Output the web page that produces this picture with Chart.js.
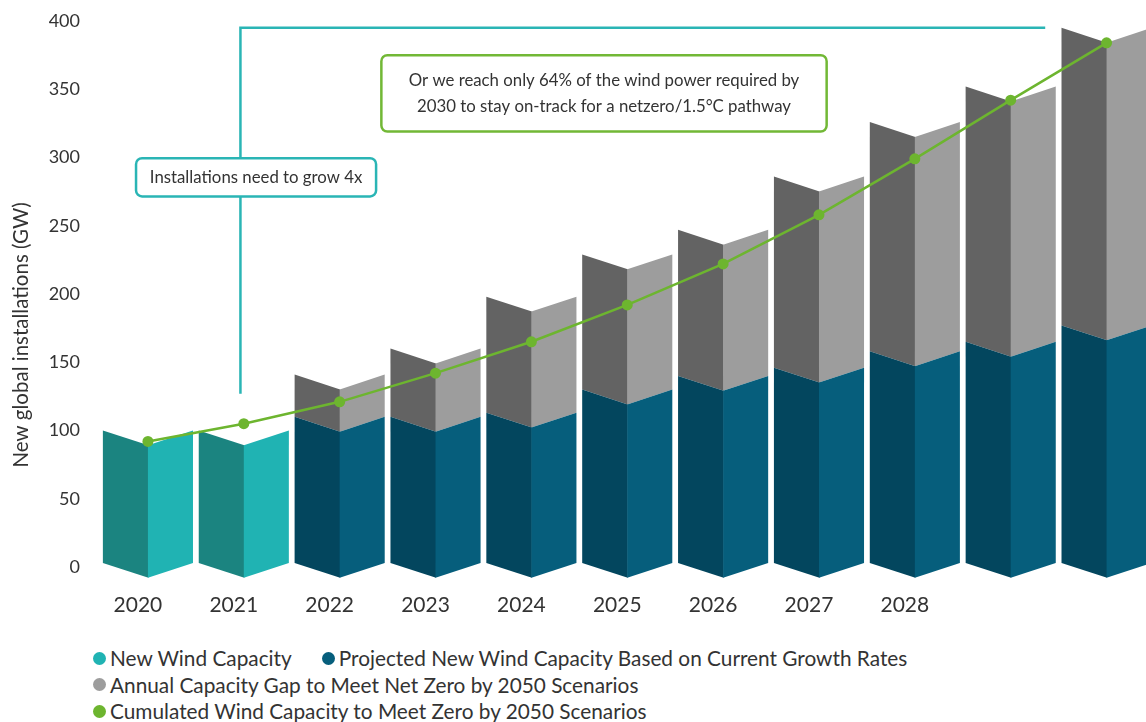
<!DOCTYPE html>
<html>
<head>
<meta charset="utf-8">
<script src="https://cdn.jsdelivr.net/npm/chart.js@4.4.0/dist/chart.umd.min.js"></script>
<style>
	html, body { margin: 0; padding: 0; background: #fff; overflow: hidden; }
	body { width: 1146px; height: 722px; position: relative; font-family: Lato, sans-serif; }
	#wrap { position: absolute; left: 0; top: 0; width: 1160px; height: 632px; }
	#legend { position: absolute; left: 93px; top: 645px; color: #333; font-size: 20.8px; line-height: 26.5px; white-space: nowrap; }
	.row { display: flex; align-items: center; }
	.item { display: inline-flex; align-items: center; margin-right: 30px; }
	.dot { width: 13px; height: 13px; border-radius: 50%; margin-right: 4px; }
</style>
</head>
<body>
<div id="wrap"><canvas id="chart"></canvas></div>
<div id="legend"></div>
<script>
const years = ['2020', '2021', '2022', '2023', '2024', '2025', '2026', '2027', '2028', '2029', '2030'];
const tickLabels = ['2020', '2021', '2022', '2023', '2024', '2025', '2026', '2027', '2028', '', ''];

const seriesNames = [
	'New Wind Capacity',
	'Projected New Wind Capacity Based on Current Growth Rates',
	'Annual Capacity Gap to Meet Net Zero by 2050 Scenarios',
	'Cumulated Wind Capacity to Meet Zero by 2050 Scenarios'
];
const newCapacity = [100, 100, null, null, null, null, null, null, null, null, null];
const projectedCapacity = [null, null, 110, 110, 113, 130, 140, 146, 158, 165, 177];
const capacityGap = [null, null, 31, 50, 85, 99, 107, 140, 168, 187, 218];
const cumulatedCapacity = [92, 105, 121, 142, 165, 192, 222, 258, 299, 342, 384];

const yTicks = [0, 50, 100, 150, 200, 250, 300, 350, 400];

// light face / dark face for each bar series
const lightColors = ['#20b3b3', '#065e7c', '#9d9d9d'];
const darkColors = ['#1b8480', '#03465e', '#636363'];
const green = '#6db52f';
const teal = '#2ab5b5';
const textColor = '#333333';

// folded "3D" bars drawn from the library's bar elements
const foldBars = {
	id: 'foldBars',
	beforeDatasetDraw(chart, args)
	{
		const meta = args.meta;
		if (meta.type !== 'bar')
			return;
		const ds = chart.data.datasets[args.index];
		const ctx = chart.ctx;
		ctx.save();
		meta.data.forEach((bar, i) => {
			if (ds.data[i] == null)
				return;
			const p = bar.getProps(['x', 'y', 'base', 'width'], true);
			const l = p.x - p.width / 2;
			const r = p.x + p.width / 2;
			const d = p.width * 0.165;
			ctx.fillStyle = darkColors[args.index];
			ctx.beginPath();
			ctx.moveTo(l, p.y);
			ctx.lineTo(p.x + 0.5, p.y + d);
			ctx.lineTo(p.x + 0.5, p.base + d);
			ctx.lineTo(l, p.base);
			ctx.closePath();
			ctx.fill();
			ctx.fillStyle = lightColors[args.index];
			ctx.beginPath();
			ctx.moveTo(p.x, p.y + d);
			ctx.lineTo(r, p.y);
			ctx.lineTo(r, p.base);
			ctx.lineTo(p.x, p.base + d);
			ctx.closePath();
			ctx.fill();
		});
		ctx.restore();
		return false;
	}
};

function roundBox(ctx, x1, y1, x2, y2, color, lines)
{
	ctx.beginPath();
	ctx.roundRect(x1, y1, x2 - x1, y2 - y1, 6);
	ctx.fillStyle = '#fff';
	ctx.fill();
	ctx.lineWidth = 2.5;
	ctx.strokeStyle = color;
	ctx.stroke();
	ctx.fillStyle = textColor;
	ctx.font = '16.8px Lato';
	ctx.textAlign = 'center';
	ctx.textBaseline = 'middle';
	const mid = (y1 + y2) / 2;
	lines.forEach((t, k) => {
		ctx.fillText(t, (x1 + x2) / 2, mid + (k - (lines.length - 1) / 2) * 26);
	});
}

const annotations = {
	id: 'annotations',
	beforeDatasetsDraw(chart)
	{
		const ctx = chart.ctx;
		const xs = chart.scales.x;
		const ys = chart.scales.y;
		const x0 = xs.getPixelForValue(0);
		const step = xs.getPixelForValue(1) - x0;
		const px = (i) => x0 + i * step;
		const py = (v) => ys.getPixelForValue(v);

		ctx.save();
		// bracket
		ctx.strokeStyle = teal;
		ctx.lineWidth = 2.5;
		ctx.beginPath();
		ctx.moveTo(px(0.965), py(127));
		ctx.lineTo(px(0.965), py(395));
		ctx.lineTo(px(9.36), py(395));
		ctx.stroke();

		roundBox(ctx, px(-0.124), py(299.5), px(2.38), py(271.5), teal, ['Installations need to grow 4x']);
		roundBox(ctx, px(2.435), py(375), px(7.08), py(319), '#72b836', [
			'Or we reach only 64% of the wind power required by',
			'2030 to stay on-track for a netzero/1.5\u00b0C pathway'
		]);

		// y axis title
		ctx.translate(21, py(170));
		ctx.rotate(-Math.PI / 2);
		ctx.font = '20.5px Lato';
		ctx.fillStyle = textColor;
		ctx.textAlign = 'center';
		ctx.textBaseline = 'middle';
		ctx.fillText('New global installations (GW)', 0, 0);
		ctx.restore();
	}
};

const ctx = document.getElementById('chart').getContext('2d');
new Chart(ctx, {
	type: 'bar',
	data: {
		labels: years,
		datasets: [
			{ label: seriesNames[0], data: newCapacity, backgroundColor: lightColors[0], stack: 'bars', base: 3, order: 1 },
			{ label: seriesNames[1], data: projectedCapacity, backgroundColor: lightColors[1], stack: 'bars', base: 3, order: 1 },
			{ label: seriesNames[2], data: capacityGap, backgroundColor: lightColors[2], stack: 'bars', order: 1 },
			{
				type: 'line',
				label: seriesNames[3],
				data: cumulatedCapacity,
				stack: 'line',
				order: 0,
				borderColor: green,
				backgroundColor: green,
				borderWidth: 2.5,
				pointRadius: 5.5,
				pointBackgroundColor: green,
				pointBorderWidth: 0,
				tension: 0
			}
		]
	},
	options: {
		responsive: true,
		maintainAspectRatio: false,
		animation: false,
		layout: { padding: { top: 21, left: 0, right: 0, bottom: 0 } },
		datasets: { bar: { categoryPercentage: 1, barPercentage: 0.94 } },
		plugins: {
			legend: { display: false },
			tooltip: { enabled: false }
		},
		scales: {
			x: {
				stacked: true,
				grid: { display: false, drawTicks: false },
				border: { display: false },
				ticks: {
					padding: 26,
					labelOffset: -10,
					color: textColor,
					font: { family: 'Lato', size: 21 },
					callback: (v, i) => tickLabels[i]
				},
				afterFit: (scale) => { scale.height = 65; }
			},
			y: {
				stacked: true,
				min: 0,
				max: 400,
				grid: { display: false, drawTicks: false },
				border: { display: false },
				afterBuildTicks: (scale) => { scale.ticks = yTicks.map(v => ({ value: v })); },
				ticks: {
					padding: 20,
					color: textColor,
					font: { family: 'Lato', size: 18 }
				},
				afterFit: (scale) => {
					scale.width = 100;
					scale.paddingTop = 0;
					scale.paddingBottom = 0;
				}
			}
		}
	},
	plugins: [foldBars, annotations]
});

// legend, three rows as in the source
const legendRows = [[0, 1], [2], [3]];
const legendColors = [lightColors[0], lightColors[1], lightColors[2], green];
const legendEl = document.getElementById('legend');
legendRows.forEach(row => {
	const rowEl = document.createElement('div');
	rowEl.className = 'row';
	row.forEach(i => {
		const item = document.createElement('span');
		item.className = 'item';
		item.innerHTML = `<span class="dot" style="background:${legendColors[i]}"></span>${seriesNames[i]}`;
		rowEl.appendChild(item);
	});
	legendEl.appendChild(rowEl);
});
</script>
</body>
</html>
